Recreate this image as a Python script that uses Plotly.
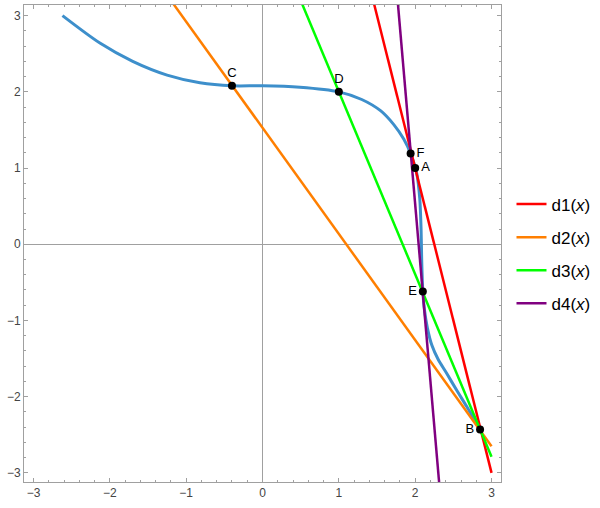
import plotly.graph_objects as go

# Curve (blue)
curve_x = [-2.62, -2.13, -1.70, -1.25, -0.82, -0.40, 0.0, 0.49, 1.00, 1.30, 1.55, 1.72, 1.85,
           1.94, 2.02, 2.06, 2.077, 2.085, 2.10, 2.12, 2.16, 2.22, 2.30, 2.41, 2.54, 2.675, 2.85]
curve_y = [3.00, 2.64, 2.40, 2.22, 2.12, 2.08, 2.08, 2.06, 2.00, 1.90, 1.75, 1.57, 1.38,
           1.19, 0.93, 0.60, 0.20, -0.20, -0.62, -0.85, -1.10, -1.33, -1.51, -1.69, -1.91, -2.13, -2.43]

# Straight lines: endpoints
line_names = ["d1(<i>x</i>)", "d2(<i>x</i>)", "d3(<i>x</i>)", "d4(<i>x</i>)"]
line_x = [[1.45, 3.0], [-1.2, 3.0], [0.5, 3.0], [1.77, 2.32]]
line_y = [[3.2, -3.0], [3.2, -2.65], [3.2, -2.79], [3.2, -3.2]]
line_colors = ["#ff0000", "#ff7f00", "#00ff00", "#800080"]

# Labelled points
pt_labels = ["A", "B", "C", "D", "E", "F"]
pt_x = [2.0, 2.85, -0.40, 1.0, 2.10, 1.94]
pt_y = [1.0, -2.43, 2.08, 2.0, -0.62, 1.19]
pt_pos = ["middle right", "middle left", "top center", "top center", "middle left", "middle right"]

fig = go.Figure()
fig.add_trace(go.Scatter(x=curve_x, y=curve_y, mode="lines",
                         line=dict(color="#3d8fcb", width=3, shape="spline", smoothing=0.8),
                         showlegend=False, hoverinfo="skip"))
for i in range(4):
    fig.add_trace(go.Scatter(x=line_x[i], y=line_y[i], mode="lines", name=line_names[i],
                             legendgroup=f"g{i}",
                             line=dict(color=line_colors[i], width=2.5)))
fig.add_trace(go.Scatter(x=pt_x, y=pt_y, mode="markers+text", text=pt_labels,
                         textposition=pt_pos, marker=dict(color="black", size=8),
                         textfont=dict(family="Arial, Liberation Sans", size=13, color="black"),
                         showlegend=False, cliponaxis=False))

axis_common = dict(showgrid=False, zeroline=True, zerolinecolor="#a0a0a0", zerolinewidth=1,
                   showline=True, linecolor="#a0a0a0", linewidth=1, mirror="ticks",
                   ticks="inside", ticklen=4, tickcolor="#a0a0a0", dtick=1, automargin=False,
                   tickfont=dict(family="Arial, Liberation Sans", size=12, color="#444"),
                   minor=dict(ticks="inside", dtick=0.2, ticklen=2, tickcolor="#a0a0a0"))

fig.update_xaxes(range=[-3.124, 3.124], **axis_common)
fig.update_yaxes(range=[-3.12, 3.14], **axis_common)

fig.update_layout(width=600, height=508, margin=dict(l=24, r=99, t=5, b=26),
                  plot_bgcolor="white", paper_bgcolor="white",
                  legend=dict(x=1.022, y=0.478, yanchor="middle", xanchor="left",
                              font=dict(family="Arial, Liberation Sans", size=17, color="black"),
                              tracegroupgap=8, itemwidth=30),
                  showlegend=True)

fig.write_html("out.html", config={"displayModeBar": False},
               post_script="document.body.style.margin='0';")
